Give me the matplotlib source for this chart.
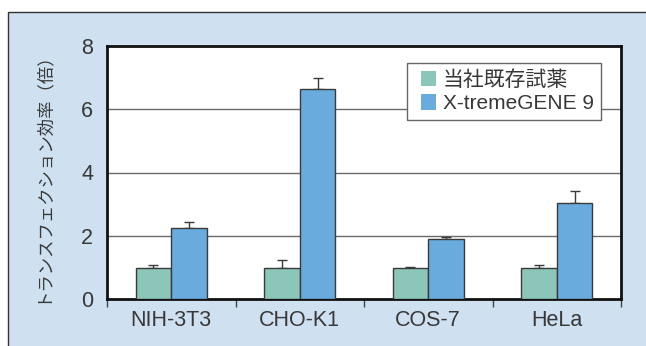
import matplotlib.pyplot as plt
from matplotlib.patches import Rectangle, Patch
from matplotlib.legend_handler import HandlerPatch
import numpy as np

# data
cell_lines = ["NIH-3T3", "CHO-K1", "COS-7", "HeLa"]
series_names = ["当社既存試薬", "X-tremeGENE 9"]
existing = [0.97, 0.97, 0.97, 0.97]
existing_err = [0.10, 0.26, 0.04, 0.10]
xtreme = [2.24, 6.65, 1.91, 3.03]
xtreme_err = [0.21, 0.33, 0.06, 0.37]
y_ticks = [0, 2, 4, 6, 8]

plt.rcParams['font.family'] = ['Liberation Sans', 'Noto Sans CJK JP', 'DejaVu Sans']

fig = plt.figure(figsize=(6.46, 3.46), dpi=100)

# light blue panel with dark top/left border
panel = Rectangle((8 / 646, -0.05), 1.1, (346 - 12) / 346 + 0.05,
                  transform=fig.transFigure, facecolor="#cfe0f1",
                  edgecolor="#333333", linewidth=1.0, zorder=-10)
fig.patches.append(panel)

ax = fig.add_axes([107 / 646, 1 - 299 / 346, 514 / 646, 253 / 346])
ax.set_facecolor("white")

x = np.arange(len(cell_lines)) + 0.5
w = 0.277
green = "#8cc6ba"
blue = "#69abdc"
edge = "#3a3a3a"
text_col = "#383838"

ax.bar(x - w / 2, existing, w, color=green, edgecolor=edge, linewidth=1.0, zorder=3)
ax.bar(x + w / 2, xtreme, w, color=blue, edgecolor=edge, linewidth=1.0, zorder=3)
ax.errorbar(x - w / 2, existing, yerr=[np.zeros(4), existing_err], fmt="none",
            ecolor=edge, elinewidth=1.0, capsize=3.3, capthick=1.0, zorder=2)
ax.errorbar(x + w / 2, xtreme, yerr=[np.zeros(4), xtreme_err], fmt="none",
            ecolor=edge, elinewidth=1.0, capsize=3.3, capthick=1.0, zorder=2)

ax.set_xlim(0, 4)
ax.set_ylim(0, 8)
ax.set_yticks(y_ticks)
ax.set_yticklabels([str(t) for t in y_ticks])
for t in [2, 4, 6]:
    ax.axhline(t, color="#6a6a6a", linewidth=1.0, zorder=1)

ax.set_xticks(range(5))
ax.set_xticklabels([])
ax.set_xticks(x, minor=True)
ax.set_xticklabels(cell_lines, minor=True)
ax.tick_params(axis="x", which="major", direction="out", length=6, width=1.0, color="#444444")
ax.tick_params(axis="x", which="minor", length=0, pad=8, labelsize=15.5, labelcolor=text_col)
ax.tick_params(axis="y", length=0, pad=10, labelsize=15.5, labelcolor=text_col)

for s in ax.spines.values():
    s.set_linewidth(2.0)
    s.set_color("#111111")

ax.set_ylabel("トランスフェクション効率（倍）", fontsize=12.5, color=text_col,
              family=['Noto Sans CJK JP', 'DejaVu Sans'])
ax.yaxis.set_label_coords(-0.109, 0.5)


def square_handle(legend, orig_handle, xdescent, ydescent, width, height, fontsize):
    # small square pushed to the right end of the handle box
    s = 11.0
    return Rectangle((-xdescent + width - s, -ydescent + (height - s) / 2), s, s)


handles = [Patch(facecolor=green, edgecolor="none"), Patch(facecolor=blue, edgecolor="none")]
leg = ax.legend(handles, series_names, loc="upper right", bbox_to_anchor=(0.961, 0.933),
                borderaxespad=0, fancybox=False, framealpha=1,
                edgecolor="#666666", handlelength=1.05, handleheight=0.7,
                handletextpad=0.3, borderpad=0.35, labelspacing=0.2,
                handler_map={Patch: HandlerPatch(patch_func=square_handle)},
                prop={'family': ['Liberation Sans', 'Noto Sans CJK JP'], 'size': 15})
leg.get_frame().set_linewidth(1.0)
leg.set_zorder(5)
for t in leg.get_texts():
    t.set_color(text_col)

fig.savefig("out.png", dpi=100)
